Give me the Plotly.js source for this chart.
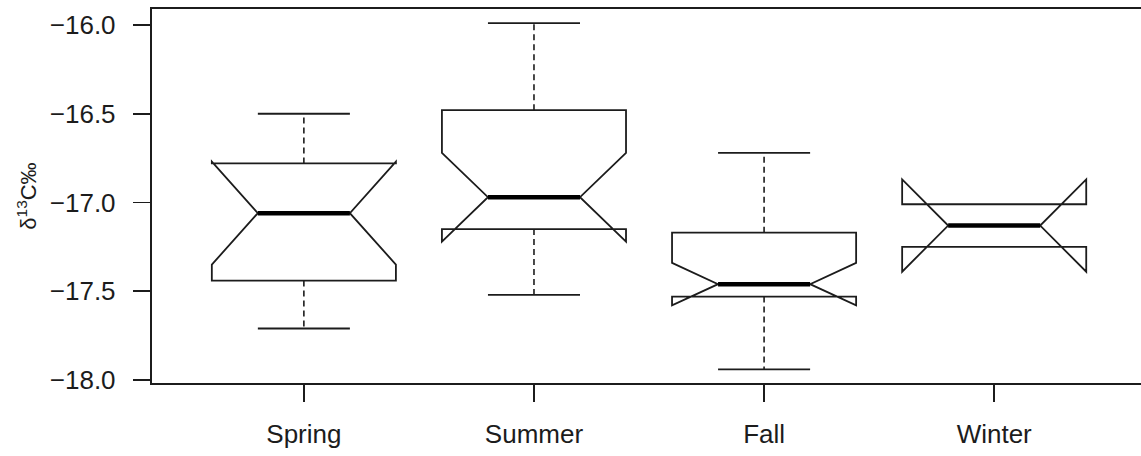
<!DOCTYPE html>
<html>
<head>
<meta charset="utf-8">
<script src="https://cdn.plot.ly/plotly-3.0.1.min.js"></script>
<style>
  body { margin: 0; background: #fff; }
  #plot { width: 1141px; height: 456px; }
</style>
</head>
<body>
<div id="plot"></div>
<script>
// Seasonal d13C values
var seasons = ["Spring", "Summer", "Fall", "Winter"];
var positions = [1, 2, 3, 4];

var lowerWhisker = [-17.71, -17.52, -17.94, -17.25];
var q1 = [-17.44, -17.15, -17.53, -17.25];
var median = [-17.06, -16.97, -17.46, -17.13];
var q3 = [-16.78, -16.48, -17.17, -17.01];
var upperWhisker = [-16.50, -15.99, -16.72, -17.01];
var notchSpan = [0.29, 0.25, 0.12, 0.26];

var yTicks = [-18.0, -17.5, -17.0, -16.5, -16.0];

var ink = "#1c1c1c";
var boxWidth = 0.8;
var halfInner = boxWidth / 4;   // median line and staples are half the box width



// Notched boxes (whiskers drawn separately so they can be dashed)
var boxes = {
    type: "box",
    x: positions,
    q1: q1,
    median: median,
    q3: q3,
    lowerfence: lowerWhisker,
    upperfence: upperWhisker,
    notchspan: notchSpan,
    notched: true,
    notchwidth: 0.25,
    width: boxWidth,
    showwhiskers: false,
    whiskerwidth: 0,
    boxpoints: false,
    fillcolor: "white",
    line: { color: ink, width: 1.8 },
    hoverinfo: "skip",
    showlegend: false
};



// Dashed whiskers from the hinges out to the extremes
var wx = [], wy = [];
positions.forEach(function (p, i) {
    wx.push(p, p, null, p, p, null);
    wy.push(q3[i], upperWhisker[i], null, q1[i], lowerWhisker[i], null);
});

var whiskers = {
    type: "scatter",
    mode: "lines",
    x: wx,
    y: wy,
    line: { color: ink, width: 1.6, dash: "6px,4px" },
    hoverinfo: "skip",
    showlegend: false
};



// Staples at the whisker ends
var sx = [], sy = [];
positions.forEach(function (p, i) {
    if (upperWhisker[i] !== q3[i]) {
        sx.push(p - halfInner, p + halfInner, null);
        sy.push(upperWhisker[i], upperWhisker[i], null);
    }
    if (lowerWhisker[i] !== q1[i]) {
        sx.push(p - halfInner, p + halfInner, null);
        sy.push(lowerWhisker[i], lowerWhisker[i], null);
    }
});

var staples = {
    type: "scatter",
    mode: "lines",
    x: sx,
    y: sy,
    line: { color: ink, width: 1.8 },
    hoverinfo: "skip",
    showlegend: false
};



// Thick median bars
var mx = [], my = [];
positions.forEach(function (p, i) {
    mx.push(p - halfInner, p + halfInner, null);
    my.push(median[i], median[i], null);
});

var medians = {
    type: "scatter",
    mode: "lines",
    x: mx,
    y: my,
    line: { color: "#000", width: 4.5 },
    hoverinfo: "skip",
    showlegend: false
};



var layout = {
    width: 1141,
    height: 456,
    margin: { l: 152, r: 0, t: 9, b: 73 },
    paper_bgcolor: "white",
    plot_bgcolor: "white",
    font: { family: "Liberation Sans, Arial, sans-serif", color: ink, size: 26 },
    showlegend: false,
    xaxis: {
        range: [0.34, 4.638],
        tickmode: "array",
        tickvals: positions,
        ticktext: seasons,
        ticks: "outside",
        ticklen: 17,
        tickwidth: 1.8,
        tickcolor: ink,
        ticklabelstandoff: 10,
        showline: true,
        mirror: true,
        linecolor: ink,
        linewidth: 2.2,
        showgrid: false,
        zeroline: false
    },
    yaxis: {
        range: [-18.017, -15.91],
        tickmode: "array",
        tickvals: yTicks,
        tickformat: ".1f",
        ticks: "outside",
        ticklen: 17,
        tickwidth: 1.8,
        tickcolor: ink,
        ticklabelstandoff: 12,
        showline: true,
        linecolor: ink,
        linewidth: 2.2,
        showgrid: false,
        zeroline: false,
        title: {
            text: "δ<sup>13</sup>C‰",
            font: { size: 22 },
            standoff: 7
        }
    }
};

Plotly.newPlot("plot", [boxes, whiskers, staples, medians], layout, { staticPlot: true });
</script>
</body>
</html>
